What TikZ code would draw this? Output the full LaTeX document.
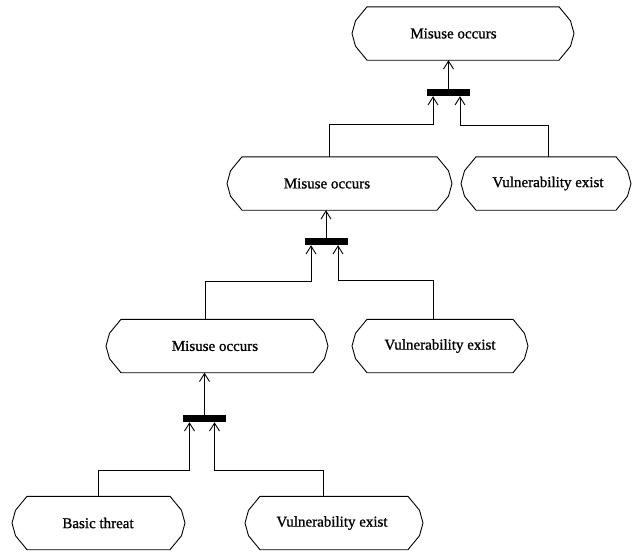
\documentclass[tikz,border=0pt]{standalone}
\usepackage{fontspec}
\setmainfont{Liberation Serif}
\newfontfamily\goalfont{Liberation Serif}[FakeBold=1.0]
\usetikzlibrary{arrows.meta}

\tikzset{
  % outline of a goal box: flat top and bottom, faceted rounded ends;
  % #1 = reach to the left of the text centre, #2 = reach to the right
  goal/.style 2 args={
    shape=rectangle, draw=none, inner sep=0pt, minimum height=53pt,
    font=\goalfont\fontsize{15}{18}\selectfont,
    append after command={\pgfextra{
      \draw[outline]
        ([xshift=-#1pt+15pt]\tikzlastnode.north) -- ([xshift=#2pt-15pt]\tikzlastnode.north)
        -- ([xshift=#2pt-3.5pt,yshift=-14pt]\tikzlastnode.north)
        -- ([xshift=#2pt]\tikzlastnode.center)
        -- ([xshift=#2pt-3.5pt,yshift=14pt]\tikzlastnode.south)
        -- ([xshift=#2pt-15pt]\tikzlastnode.south) -- ([xshift=-#1pt+15pt]\tikzlastnode.south)
        -- ([xshift=-#1pt+3.5pt,yshift=14pt]\tikzlastnode.south)
        -- ([xshift=-#1pt]\tikzlastnode.center)
        -- ([xshift=-#1pt+3.5pt,yshift=-14pt]\tikzlastnode.north)
        -- cycle;
    }}
  },
  outline/.style={draw=black, line width=0.9pt, line join=miter},
  andbar/.style={shape=rectangle, fill=black, draw=none, inner sep=0pt,
    minimum width=43pt, minimum height=7pt},
  link/.style={draw=black, line width=0.9pt,
    -{Straight Barb[length=8pt,width=10pt,line width=0.9pt]}},
}

\begin{document}
\begin{tikzpicture}[x=1pt,y=-1pt]
\useasboundingbox (0,0) rectangle (632,552);

% goals
\node[goal={101.5}{120.5}] (top)   at (453.5,33.5)  {Misuse occurs};
\node[goal={100}{125}]     (mis2)  at (327,183.5)   {Misuse occurs};
\node[goal={87}{83}]       (vul2)  at (548,183.5)   {Vulnerability exist};
\node[goal={109}{113}]     (mis3)  at (215,346)     {Misuse occurs};
\node[goal={88}{88}]       (vul3)  at (440,346)     {Vulnerability exist};
\node[goal={86}{87}]       (basic) at (98,523)      {Basic threat};
\node[goal={87}{91}]       (vul4)  at (332,523)     {Vulnerability exist};

% AND bars
\node[andbar] (and1) at (448.5,92.5)  {};
\node[andbar] (and2) at (326,241.5)   {};
\node[andbar] (and3) at (204.5,418.5) {};

% bars to the goals they refine
\draw[link] (and1.north) -- (and1.north |- top.south);
\draw[link] (and2.north) -- (and2.north |- mis2.south);
\draw[link] (and3.north) -- (and3.north |- mis3.south);

% sub-goals into the bars
\draw[link] ([xshift=2pt]mis2.north) -- ++(0,-32) -| ([xshift=-15.5pt]and1.south);
\draw[link] (vul2.north) -- ++(0,-31) -| ([xshift=11.5pt]and1.south);

\draw[link] ([xshift=-9.5pt]mis3.north) -- ++(0,-38) -| ([xshift=-15pt]and2.south);
\draw[link] ([xshift=-7pt]vul3.north) -- ++(0,-39) -| ([xshift=12pt]and2.south);

\draw[link] (basic.north) -- ++(0,-26) -| ([xshift=-15pt]and3.south);
\draw[link] ([xshift=-8.5pt]vul4.north) -- ++(0,-26) -| ([xshift=10pt]and3.south);
\end{tikzpicture}
\end{document}
